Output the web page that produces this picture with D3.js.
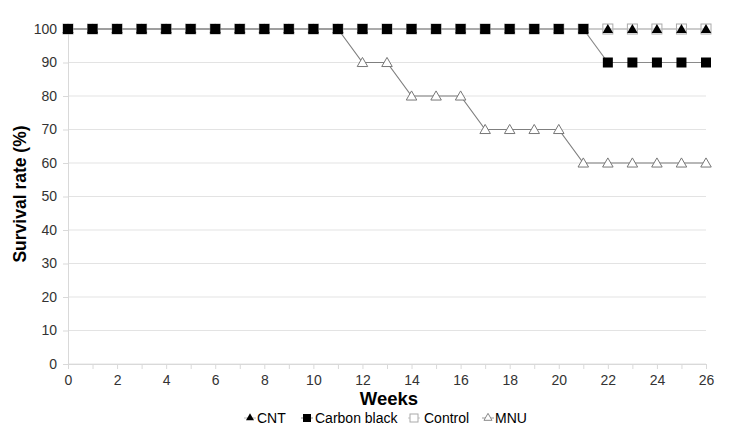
<!DOCTYPE html>
<html><head><meta charset="utf-8">
<script src="https://cdn.jsdelivr.net/npm/d3@7"></script>
<style>body{margin:0;background:#fff;}svg{display:block;font-family:"Liberation Sans",Arial,sans-serif;}</style>
</head><body>
<svg id="c" width="743" height="434"></svg>
<script>
const weeks = d3.range(0, 27);
const cnt =          [100,100,100,100,100,100,100,100,100,100,100,100,100,100,100,100,100,100,100,100,100,100,100,100,100,100,100];
const carbonBlack =  [100,100,100,100,100,100,100,100,100,100,100,100,100,100,100,100,100,100,100,100,100,100,90,90,90,90,90];
const control =      [100,100,100,100,100,100,100,100,100,100,100,100,100,100,100,100,100,100,100,100,100,100,100,100,100,100,100];
const mnu =          [100,100,100,100,100,100,100,100,100,100,100,100,90,90,80,80,80,70,70,70,70,60,60,60,60,60,60];
const yTicks = [0,10,20,30,40,50,60,70,80,90,100];
const xLabels = [0,2,4,6,8,10,12,14,16,18,20,22,24,26];

const svg = d3.select("#c");
const x = d3.scaleLinear().domain([0,26]).range([68,706]);
const y = d3.scaleLinear().domain([0,100]).range([364,29]);

// grid
svg.append("g").selectAll("line").data(yTicks).join("line")
  .attr("x1", x(0)).attr("x2", x(26)).attr("y1", d=>y(d)).attr("y2", d=>y(d))
  .attr("stroke", "#e3e3e3").attr("stroke-width", 1);

// y axis
const ya = svg.append("g").attr("transform", `translate(${x(0)},0)`)
  .call(d3.axisLeft(y).tickValues(yTicks).tickSize(5).tickPadding(6));
ya.select(".domain").attr("stroke", "#d9d9d9");
ya.selectAll(".tick line").attr("stroke", "#d9d9d9");
ya.selectAll("text").attr("font-size", 14).attr("fill", "#333").attr("font-family", "Liberation Sans, Arial, sans-serif");

// x axis
const xa = svg.append("g").attr("transform", `translate(0,${y(0)})`)
  .call(d3.axisBottom(x).tickValues(weeks).tickSize(5).tickPadding(6)
    .tickFormat(d => xLabels.includes(d) ? d : ""));
xa.select(".domain").attr("stroke", "#d9d9d9");
xa.selectAll(".tick line").attr("stroke", "#d9d9d9");
xa.selectAll("text").attr("font-size", 14).attr("fill", "#333").attr("font-family", "Liberation Sans, Arial, sans-serif");

// titles
svg.append("text").attr("x", 389).attr("y", 405).attr("text-anchor", "middle")
  .attr("font-weight", "bold").attr("font-size", 18.5).attr("fill", "#000").text("Weeks");
svg.append("text").attr("transform", `translate(26,194) rotate(-90)`)
  .attr("text-anchor", "middle").attr("font-weight", "bold").attr("font-size", 17.5).attr("fill", "#000")
  .text("Survival rate (%)");

const line = d3.line().x((d,i)=>x(weeks[i])).y(d=>y(d));
const tri = d3.symbol().type(d3.symbolTriangle).size(48);

function series(vals, lineColor, drawMarker) {
  const g = svg.append("g");
  g.append("path").datum(vals).attr("d", line).attr("fill", "none").attr("stroke", lineColor).attr("stroke-width", 1.2);
  g.selectAll("g").data(vals).join("g")
    .attr("transform", (d,i)=>`translate(${x(weeks[i])},${y(d)})`)
    .each(function(){ drawMarker(d3.select(this)); });
}
// Control
series(control, "#c8c8c8", s => s.append("rect").attr("x",-5).attr("y",-5).attr("width",10).attr("height",10)
  .attr("fill","#fff").attr("stroke","#aaa").attr("stroke-width",1));
// MNU
series(mnu, "#7f7f7f", s => s.append("path").attr("d", tri).attr("transform","translate(0,1)")
  .attr("fill","#fff").attr("stroke","#777").attr("stroke-width",1));
// CNT
series(cnt, "#bbbbbb", s => s.append("path").attr("d", tri).attr("transform","translate(0,1)").attr("fill","#000"));
// Carbon black
series(carbonBlack, "#8a8a8a", s => s.append("rect").attr("x",-5).attr("y",-5).attr("width",10).attr("height",10).attr("fill","#000"));

// legend
const leg = svg.append("g").attr("font-size", 14).attr("fill", "#000");
const items = [
  {name:"CNT", x:250, tx:257, m:"triB"},
  {name:"Carbon black", x:307, tx:315, m:"sqB"},
  {name:"Control", x:414, tx:424, m:"sqW"},
  {name:"MNU", x:488, tx:495, m:"triW"}
];
items.forEach(it => {
  const g = leg.append("g").attr("transform", `translate(${it.x},418)`);
  if (it.m === "triB") {
    g.append("line").attr("x1",-6).attr("x2",6).attr("stroke","#bbb");
    g.append("path").attr("d", d3.symbol().type(d3.symbolTriangle).size(28)).attr("fill","#000");
  } else if (it.m === "sqB") {
    g.append("line").attr("x1",-6).attr("x2",6).attr("stroke","#8a8a8a");
    g.append("rect").attr("x",-4).attr("y",-4).attr("width",8).attr("height",8).attr("fill","#000");
  } else if (it.m === "sqW") {
    g.append("line").attr("x1",-6).attr("x2",6).attr("stroke","#c8c8c8");
    g.append("rect").attr("x",-4).attr("y",-4).attr("width",8).attr("height",8).attr("fill","#fff").attr("stroke","#aaa");
  } else {
    g.append("line").attr("x1",-6).attr("x2",6).attr("stroke","#999");
    g.append("path").attr("d", d3.symbol().type(d3.symbolTriangle).size(28)).attr("fill","#fff").attr("stroke","#888");
  }
  g.append("text").attr("x", it.tx - it.x).attr("y", 5).text(it.name);
});
</script>
</body></html>
